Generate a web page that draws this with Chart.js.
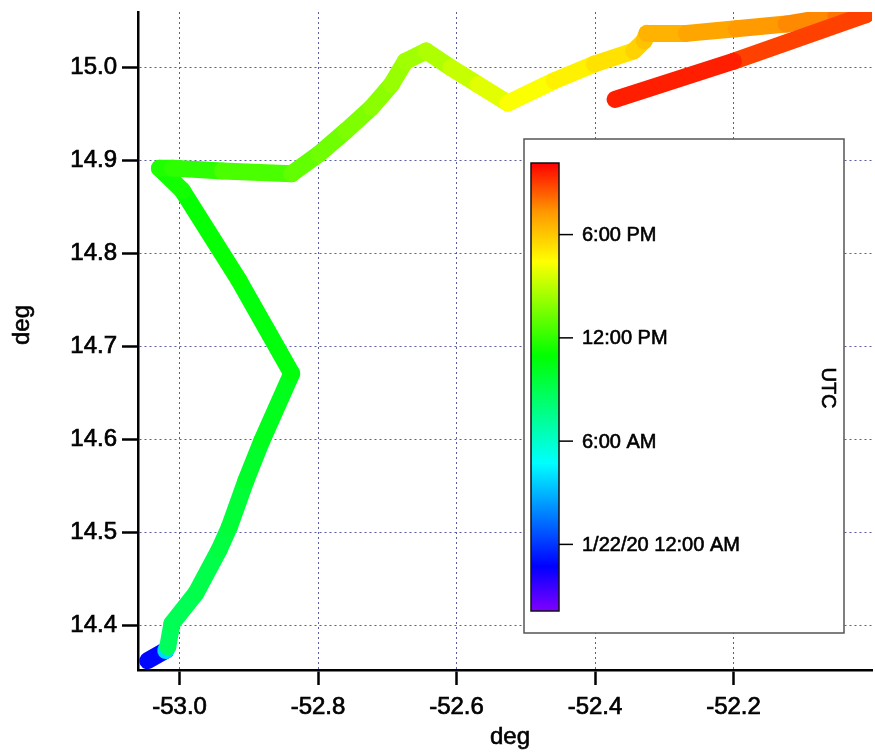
<!DOCTYPE html>
<html>
<head>
<meta charset="utf-8">
<script src="https://cdn.jsdelivr.net/npm/chart.js@4.4.1/dist/chart.umd.min.js"></script>
<style>
  html, body { margin: 0; padding: 0; background: #fff; }
  #wrap { width: 875px; height: 756px; }
</style>
</head>
<body>
<div id="wrap"><canvas id="trackChart" width="875" height="756"></canvas></div>
<script>
// -------------------------
//   TRACK
// -------------------------

const lon = [-53.046, -53.020, -53.017, -53.011, -52.976, -52.943, -52.928, -52.904, -52.881, -52.838,
             -52.914, -52.996, -53.029, -53.010, -52.938, -52.838, -52.799, -52.760, -52.723, -52.694,
             -52.674, -52.644, -52.608, -52.569, -52.526, -52.459, -52.401, -52.344, -52.329, -52.325,
             -52.268, -52.196, -52.124, -52.052, -52.008, -52.009, -52.200, -52.371];

const lat = [14.362, 14.373, 14.377, 14.402, 14.435, 14.481, 14.506, 14.556, 14.599, 14.671,
             14.771, 14.868, 14.892, 14.892, 14.889, 14.886, 14.907, 14.932, 14.957, 14.982,
             15.007, 15.018, 15.000, 14.982, 14.962, 14.986, 15.004, 15.018, 15.029, 15.037,
             15.037, 15.042, 15.047, 15.056, 15.060, 15.057, 15.007, 14.966];

// hours since 1/22/20 00:00 UTC
const hours = [-1.3, -0.9, 8.6, 8.8, 9.0, 9.3, 9.5, 9.8, 10.1, 10.5,
               10.9, 11.2, 11.5, 11.7, 12.2, 12.9, 13.2, 13.5, 13.8, 14.1,
               14.3, 14.5, 14.9, 15.5, 16.1, 16.6, 17.0, 17.5, 17.9, 18.4,
               18.8, 19.1, 19.4, 19.8, 20.2, 20.6, 21.3, 21.9];

const xTicks = [-53.0, -52.8, -52.6, -52.4, -52.2];
const yTicks = [14.4, 14.5, 14.6, 14.7, 14.8, 14.9, 15.0];

// colour scale
const cbRange = [-3.87, 22.16];
const cbTickHours = [0, 6, 12, 18];
const cbTickLabels = ["1/22/20 12:00 AM", "6:00 AM", "12:00 PM", "6:00 PM"];
const cbStops = [[0, "#8000ff"], [0.1, "#0000ff"], [0.33, "#00ffff"], [0.57, "#00ff00"],
                 [0.78, "#ffff00"], [0.89, "#ff9900"], [1, "#ff0000"]];

// -------------------------

const FONT = "'Liberation Sans', Arial, Helvetica, sans-serif";
const GRID = "#5c5ca6";

function hexRgb(h) {
    return [parseInt(h.slice(1, 3), 16), parseInt(h.slice(3, 5), 16), parseInt(h.slice(5, 7), 16)];
}

function colorAt(t) {
    let f = (t - cbRange[0]) / (cbRange[1] - cbRange[0]);
    f = Math.max(0, Math.min(1, f));
    for (let i = 1; i < cbStops.length; i++) {
        const [f0, c0] = cbStops[i - 1];
        const [f1, c1] = cbStops[i];
        if (f <= f1) {
            const k = (f - f0) / (f1 - f0);
            const a = hexRgb(c0), b = hexRgb(c1);
            const rgb = a.map((v, j) => Math.round(v + k * (b[j] - v)));
            return `rgb(${rgb[0]},${rgb[1]},${rgb[2]})`;
        }
    }
    return cbStops[cbStops.length - 1][1];
}

// text with a thin outline, a bit heavier like the original
function heavyText(c, txt, x, y) {
    c.lineWidth = 0.6;
    c.strokeStyle = "#000";
    c.strokeText(txt, x, y);
    c.fillText(txt, x, y);
}

const overlay = {
    id: "overlay",
    afterDatasetsDraw(chart) {
        const c = chart.ctx;
        c.save();

        // colour bar box
        c.fillStyle = "#fff";
        c.fillRect(524, 139, 320, 494);
        c.strokeStyle = "#555";
        c.lineWidth = 1.5;
        c.strokeRect(524, 139, 320, 494);

        const top = 163, bottom = 611, left = 531, w = 28;
        const g = c.createLinearGradient(0, bottom, 0, top);
        cbStops.forEach(([f, col]) => g.addColorStop(f, col));
        c.fillStyle = g;
        c.fillRect(left, top, w, bottom - top);
        c.strokeStyle = "#111";
        c.lineWidth = 1.5;
        c.strokeRect(left, top, w, bottom - top);

        c.font = "20px " + FONT;
        c.fillStyle = "#000";
        c.textAlign = "left";
        c.textBaseline = "middle";
        cbTickHours.forEach((h, i) => {
            const y = bottom - (h - cbRange[0]) / (cbRange[1] - cbRange[0]) * (bottom - top);
            c.lineWidth = 1.5;
            c.strokeStyle = "#000";
            c.beginPath();
            c.moveTo(left + w, y);
            c.lineTo(left + w + 14, y);
            c.stroke();
            heavyText(c, cbTickLabels[i], 582, y + 1);
        });

        c.translate(828, 388);
        c.rotate(Math.PI / 2);
        c.textAlign = "center";
        heavyText(c, "UTC", 0, 0);
        c.restore();
    },
    afterDraw(chart) {
        const c = chart.ctx;
        c.save();
        c.font = "24px " + FONT;
        c.fillStyle = "#000";
        c.textAlign = "center";
        c.textBaseline = "middle";
        heavyText(c, "deg", 510, 737);
        c.translate(22, 325);
        c.rotate(-Math.PI / 2);
        heavyText(c, "deg", 0, 0);
        c.restore();
    }
};

const ctx = document.getElementById("trackChart").getContext("2d");

new Chart(ctx, {
    type: "line",
    data: {
        datasets: [{
            data: lon.map((x, i) => ({ x, y: lat[i] })),
            borderWidth: 17,
            borderColor: colorAt(hours[0]),
            borderCapStyle: "round",
            borderJoinStyle: "round",
            pointRadius: 0,
            tension: 0,
            segment: {
                borderColor: s => colorAt((hours[s.p0DataIndex] + hours[s.p1DataIndex]) / 2)
            }
        }]
    },
    options: {
        responsive: false,
        devicePixelRatio: 1,
        animation: false,
        layout: { padding: { top: 12, right: 3, left: 0, bottom: 0 } },
        plugins: { legend: { display: false }, tooltip: { enabled: false } },
        scales: {
            x: {
                type: "linear",
                min: -53.06,
                max: -52.0,
                afterBuildTicks: s => { s.ticks = xTicks.map(v => ({ value: v })); },
                afterFit: s => { s.height = 86; s.paddingLeft = 0; s.paddingRight = 0; },
                grid: { color: GRID, lineWidth: 1, tickLength: 15, tickColor: "#000", tickWidth: 2.5 },
                border: { color: "#000", width: 2.5, dash: [2, 3] },
                ticks: {
                    color: "#000", font: { family: FONT, size: 24 }, padding: 8,
                    textStrokeColor: "#000", textStrokeWidth: 0.7,
                    maxRotation: 0, autoSkip: false, callback: v => v.toFixed(1)
                }
            },
            y: {
                type: "linear",
                min: 14.352,
                max: 15.06,
                afterBuildTicks: s => { s.ticks = yTicks.map(v => ({ value: v })); },
                afterFit: s => { s.width = 138; s.paddingTop = 0; s.paddingBottom = 0; },
                grid: { color: GRID, lineWidth: 1, tickLength: 16, tickColor: "#000", tickWidth: 2.5 },
                border: { color: "#000", width: 2.5, dash: [2, 3] },
                ticks: {
                    color: "#000", font: { family: FONT, size: 24 }, padding: 5,
                    textStrokeColor: "#000", textStrokeWidth: 0.7,
                    autoSkip: false, callback: v => v.toFixed(1)
                }
            }
        }
    },
    plugins: [overlay]
});
</script>
</body>
</html>
